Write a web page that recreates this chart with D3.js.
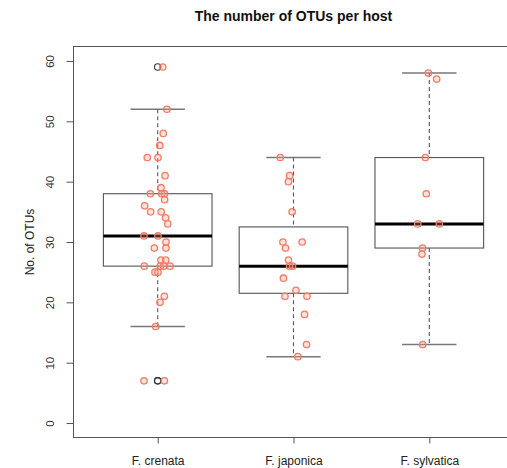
<!DOCTYPE html>
<html><head><meta charset="utf-8">
<script src="https://cdn.jsdelivr.net/npm/d3@7"></script>
<style>body{margin:0;background:#fff}svg{display:block}text{font-family:"Liberation Sans",Arial,sans-serif}</style>
</head><body><div id="chart"></div>
<script>
const categories = ["F. crenata", "F. japonica", "F. sylvatica"];
// box stats: lower whisker, Q1, median, Q3, upper whisker
const whiskerLow = [16, 11, 13];
const q1 = [26, 21.5, 29];
const medians = [31, 26, 33];
const q3 = [38, 32.5, 44];
const whiskerHigh = [52, 44, 58];
const outliers = [[59, 7, 7], [], []];
// jittered observations: values and horizontal jitter (category units)
const crenataValues = [59,52,48,46,44,44,41,39,38,38,38,37,36,35,35,34,33,31,31,30,29,29,27,27,26,26,26,26,25,25,21,20,16,7,7];
const crenataJitter = [0.037,0.068,0.041,0.015,-0.077,0.002,0.054,0.024,-0.054,0.029,0.05,0.051,-0.096,-0.052,0.026,0.058,0.074,-0.101,0.002,0.061,-0.025,0.061,0.024,0.059,-0.099,0.019,0.044,0.091,-0.02,0.002,0.049,0.017,-0.015,-0.101,0.049];
const japonicaValues = [44,41,40,35,30,30,29,27,26,26,24,22,21,21,18,13,11];
const japonicaJitter = [-0.098,-0.029,-0.037,-0.01,-0.078,0.064,-0.059,-0.037,-0.029,-0.007,-0.074,0.018,-0.063,0.099,0.081,0.096,0.032];
const sylvaticaValues = [58,57,44,38,33,33,29,28,13];
const sylvaticaJitter = [-0.007,0.054,-0.029,-0.022,-0.085,0.074,-0.05,-0.054,-0.049];
const yTicks = [0, 10, 20, 30, 40, 50, 60];
const title = "The number of OTUs per host";
const yLabel = "No. of OTUs";

const W = 507, H = 468;
const svg = d3.select("#chart").append("svg").attr("width", W).attr("height", H);
const x = d3.scaleLinear().domain([0.38, 3.62]).range([73.5, 513.5]);
const y = d3.scaleLinear().domain([-2.4, 62.4]).range([437.5, 46.5]);
const boxW = 0.4, capW = 0.2;

// plot border
svg.append("rect").attr("x", x(0.38)).attr("y", y(62.4)).attr("width", x(3.62) - x(0.38)).attr("height", y(-2.4) - y(62.4))
  .attr("fill", "none").attr("stroke", "#555").attr("stroke-width", 1);

// y axis
const yAxis = svg.append("g").attr("transform", `translate(${x(0.38)},0)`)
  .call(d3.axisLeft(y).tickValues(yTicks).tickSize(7).tickSizeOuter(0));
yAxis.select(".domain").remove();
yAxis.selectAll(".tick line").attr("stroke", "#555");
yAxis.selectAll(".tick text").attr("fill", "#333").style("font-size", "11.5px").style("font-family", "Liberation Sans, Arial, sans-serif")
  .attr("transform", "rotate(-90)").attr("x", 0).attr("y", -20).attr("dy", "0").attr("text-anchor", "middle");

// x axis
const xAxis = svg.append("g").attr("transform", `translate(0,${y(-2.4)})`)
  .call(d3.axisBottom(x).tickValues([1, 2, 3]).tickFormat((d) => categories[d - 1]).tickSize(6).tickSizeOuter(0).tickPadding(13));
xAxis.select(".domain").remove();
xAxis.selectAll(".tick line").attr("stroke", "#555");
xAxis.selectAll(".tick text").attr("fill", "#222").style("font-size", "12px").style("font-family", "Liberation Sans, Arial, sans-serif");

// title and y label
svg.append("text").attr("x", x(2)).attr("y", 21).attr("text-anchor", "middle")
  .style("font-size", "14px").style("font-weight", "bold").attr("fill", "#111").text(title);
svg.append("text").attr("transform", `translate(34,${y(30)}) rotate(-90)`).attr("text-anchor", "middle")
  .style("font-size", "12px").attr("fill", "#222").text(yLabel);

// boxes
const idx = categories.map((c, i) => i);
const g = svg.append("g");
idx.forEach(i => {
  const c = i + 1;
  g.append("line").attr("x1", x(c)).attr("x2", x(c)).attr("y1", y(whiskerHigh[i])).attr("y2", y(q3[i]))
    .attr("stroke", "#555").attr("stroke-dasharray", "4,3").attr("stroke-width", 1.1);
  g.append("line").attr("x1", x(c)).attr("x2", x(c)).attr("y1", y(q1[i])).attr("y2", y(whiskerLow[i]))
    .attr("stroke", "#555").attr("stroke-dasharray", "4,3").attr("stroke-width", 1.1);
  [whiskerHigh[i], whiskerLow[i]].forEach(v => {
    g.append("line").attr("x1", x(c - capW)).attr("x2", x(c + capW)).attr("y1", y(v)).attr("y2", y(v))
      .attr("stroke", "#777").attr("stroke-width", 1.5);
  });
  g.append("rect").attr("x", x(c - boxW)).attr("y", y(q3[i])).attr("width", x(c + boxW) - x(c - boxW))
    .attr("height", y(q1[i]) - y(q3[i])).attr("fill", "#fff").attr("stroke", "#555").attr("stroke-width", 1.1);
  g.append("line").attr("x1", x(c - boxW)).attr("x2", x(c + boxW)).attr("y1", y(medians[i])).attr("y2", y(medians[i]))
    .attr("stroke", "#000").attr("stroke-width", 3);
  outliers[i].forEach(v => {
    g.append("circle").attr("cx", x(c)).attr("cy", y(v)).attr("r", 3.2)
      .attr("fill", "none").attr("stroke", "#333").attr("stroke-width", 1.1);
  });
});

// jittered points
const groups = [[crenataValues, crenataJitter], [japonicaValues, japonicaJitter], [sylvaticaValues, sylvaticaJitter]];
groups.forEach(([vals, jit], i) => {
  g.append("g").selectAll("circle").data(vals).join("circle")
    .attr("cx", (d, k) => x(i + 1 + jit[k])).attr("cy", d => y(d)).attr("r", 3.2)
    .attr("fill", "rgba(250,160,140,0.3)").attr("stroke", "#f47a62").attr("stroke-width", 1.3);
});
</script></body></html>
